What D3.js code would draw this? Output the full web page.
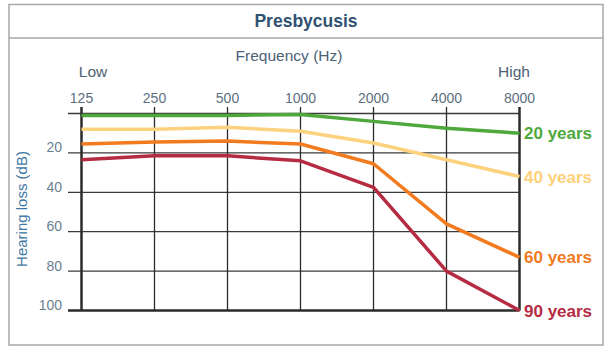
<!DOCTYPE html>
<html>
<head>
<meta charset="utf-8">
<script src="https://cdn.jsdelivr.net/npm/d3@7"></script>
<style>
  body { margin: 0; background: #fff; }
  svg { font-family: "Liberation Sans", Arial, sans-serif; }
</style>
</head>
<body>
<div id="chart"></div>
<script>
// Data
const frequencies = ["125", "250", "500", "1000", "2000", "4000", "8000"];
const dbTicks = [0, 20, 40, 60, 80, 100];
const ageGroups = ["20 years", "40 years", "60 years", "90 years"];
const loss20 = [1, 1, 1, 0.5, 4, 7.5, 10];
const loss40 = [8, 8, 7, 9, 15, 23.5, 32];
const loss60 = [15.5, 14.5, 14, 15.5, 25.5, 56, 73];
const loss90 = [23.5, 21.5, 21.5, 24, 37.5, 80, 100];
const colors = ["#4ea83c", "#fdd27e", "#f27b1f", "#b52c42"];
const labelColors = ["#4ea83c", "#fcd17a", "#f27b1f", "#b52c42"];

const series = ageGroups.map((name, i) => ({
    name: name,
    values: [loss20, loss40, loss60, loss90][i],
    color: colors[i],
    labelColor: labelColors[i]
}));

const W = 614, H = 351;
const svg = d3.select("#chart").append("svg")
    .attr("width", W)
    .attr("height", H);

// Outer frame and title
svg.append("rect")
    .attr("x", 9).attr("y", 4.5)
    .attr("width", 594).attr("height", 340.5)
    .attr("fill", "#fff")
    .attr("stroke", "#a8a8a8")
    .attr("stroke-width", 1.5);

svg.append("line")
    .attr("x1", 9).attr("x2", 603)
    .attr("y1", 38).attr("y2", 38)
    .attr("stroke", "#a8a8a8")
    .attr("stroke-width", 1.5);

svg.append("text")
    .attr("x", 306).attr("y", 27)
    .attr("text-anchor", "middle")
    .attr("fill", "#2f5272")
    .style("font-size", "17.5px")
    .style("font-weight", "bold")
    .text("Presbycusis");

// Scales
const x = d3.scalePoint().domain(frequencies).range([81.5, 519.5]);
const y = d3.scaleLinear().domain([0, 100]).range([113.5, 310.5]);

// Grid lines
svg.append("g")
    .selectAll("line")
    .data(dbTicks)
    .join("line")
    .attr("x1", 68).attr("x2", 519.5)
    .attr("y1", d => y(d)).attr("y2", d => y(d))
    .attr("stroke", d => d === 100 ? "#2b2b2b" : "#3a3a3a")
    .attr("stroke-width", d => d === 100 ? 2.5 : 1.3);

svg.append("g")
    .selectAll("line")
    .data(frequencies)
    .join("line")
    .attr("x1", d => x(d)).attr("x2", d => x(d))
    .attr("y1", 107).attr("y2", y(100))
    .attr("stroke", "#2b2b2b")
    .attr("stroke-width", (d, i) => (i === 0 || i === frequencies.length - 1) ? 2.5 : 1.3);

// Axis labels
svg.append("g")
    .selectAll("text")
    .data(frequencies)
    .join("text")
    .attr("x", d => x(d))
    .attr("y", 103)
    .attr("text-anchor", "middle")
    .attr("fill", "#5d6f80")
    .style("font-size", "14px")
    .text(d => d);

svg.append("g")
    .selectAll("text")
    .data(dbTicks.filter(d => d > 0))
    .join("text")
    .attr("x", 62)
    .attr("y", d => y(d) - 0.5)
    .attr("text-anchor", "end")
    .attr("fill", "#6b7f91")
    .style("font-size", "14px")
    .text(d => d);

svg.append("text")
    .attr("x", 289).attr("y", 61)
    .attr("text-anchor", "middle")
    .attr("fill", "#4d6275")
    .style("font-size", "15.5px")
    .text("Frequency (Hz)");

svg.append("text")
    .attr("x", 93).attr("y", 77)
    .attr("text-anchor", "middle")
    .attr("fill", "#4d6275")
    .style("font-size", "15.5px")
    .text("Low");

svg.append("text")
    .attr("x", 514).attr("y", 77)
    .attr("text-anchor", "middle")
    .attr("fill", "#4d6275")
    .style("font-size", "15.5px")
    .text("High");

svg.append("text")
    .attr("transform", "translate(27,209) rotate(-90)")
    .attr("text-anchor", "middle")
    .attr("fill", "#3f77a3")
    .style("font-size", "15px")
    .text("Hearing loss (dB)");

// Lines
const line = d3.line()
    .x((d, i) => x(frequencies[i]))
    .y(d => y(d));

svg.append("g")
    .selectAll("path")
    .data(series)
    .join("path")
    .attr("d", d => line(d.values))
    .attr("fill", "none")
    .attr("stroke", d => d.color)
    .attr("stroke-width", 3.5)
    .attr("stroke-linejoin", "round");

// Right-hand labels
svg.append("g")
    .selectAll("text")
    .data(series)
    .join("text")
    .attr("x", 524)
    .attr("y", d => y(d.values[d.values.length - 1]) + 6)
    .attr("fill", d => d.labelColor)
    .style("font-size", "17px")
    .style("font-weight", "bold")
    .text(d => d.name);
</script>
</body>
</html>
